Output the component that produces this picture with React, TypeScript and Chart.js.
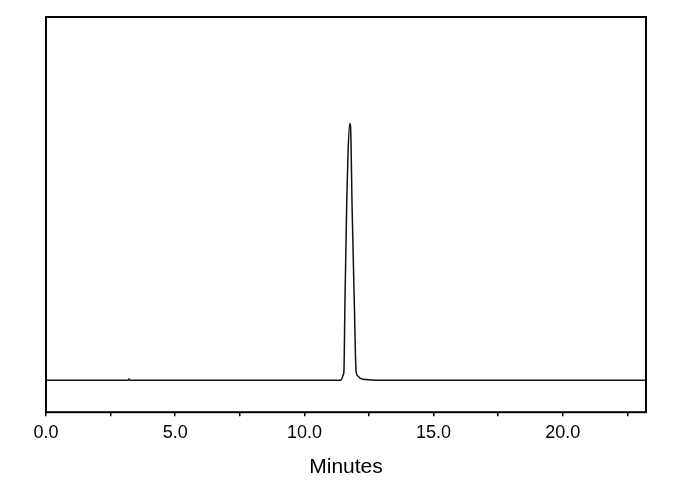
import React, { useEffect, useRef } from "react";
import { Chart, registerables } from "chart.js";

Chart.register(...registerables);

// Retention time (minutes) and detector signal (relative, baseline 0, peak 100)
const times: number[] = [
  0.0, 3.17, 3.21, 3.25, 11.38, 11.44, 11.5, 11.53, 11.57, 11.64, 11.69, 11.76,
  11.8, 11.84, 11.93, 12.0, 12.07, 12.15, 12.38, 12.81, 23.22,
];
const signal: number[] = [
  0, 0, 0.5, 0, 0, 0.5, 2, 3.6, 31, 70, 89, 100,
  95, 70, 31, 3.6, 1.7, 0.9, 0.3, 0, 0,
];

const xMin = 0;
const xMax = 23.22;
const yMin = -12.4;
const yMax = 141.5;
const xTitle = "Minutes";

const framePlugin = {
  id: "frame",
  afterDraw(chart: any) {
    const { ctx, chartArea } = chart;
    ctx.save();
    ctx.strokeStyle = "#000";
    ctx.lineWidth = 2;
    ctx.strokeRect(
      chartArea.left,
      chartArea.top,
      chartArea.right - chartArea.left,
      chartArea.bottom - chartArea.top
    );
    ctx.restore();
  },
};

export default function App() {
  const ref = useRef<HTMLCanvasElement | null>(null);

  useEffect(() => {
    if (!ref.current) return;
    const data = times.map((t, i) => ({ x: t, y: signal[i] }));
    const chart = new Chart(ref.current, {
      type: "line",
      data: {
        datasets: [
          {
            data,
            borderColor: "#111",
            borderWidth: 1.5,
            pointRadius: 0,
            cubicInterpolationMode: "monotone",
            fill: false,
          },
        ],
      },
      options: {
        animation: false,
        responsive: false,
        maintainAspectRatio: false,
        layout: { padding: { left: 46, right: 44, top: 17, bottom: 10 } },
        plugins: {
          legend: { display: false },
          tooltip: { enabled: false },
        },
        scales: {
          x: {
            type: "linear",
            min: xMin,
            max: xMax,
            border: { display: false },
            grid: {
              drawOnChartArea: false,
              drawTicks: true,
              tickLength: 4,
              color: "#000",
              lineWidth: 1.5,
            },
            ticks: {
              stepSize: 2.5,
              includeBounds: false,
              autoSkip: false,
              maxRotation: 0,
              padding: 6,
              color: "#000",
              font: { family: "'Liberation Sans', Arial, sans-serif", size: 18 },
              callback: (v: any) => (Math.abs(v % 5) < 1e-9 ? Number(v).toFixed(1) : ""),
            },
            title: {
              display: true,
              text: xTitle,
              color: "#000",
              font: { family: "'Liberation Sans', Arial, sans-serif", size: 21 },
              padding: { top: 5, bottom: 0 },
            },
          },
          y: {
            display: false,
            min: yMin,
            max: yMax,
          },
        },
      },
      plugins: [framePlugin],
    });
    return () => chart.destroy();
  }, []);

  return (
    <div style={{ position: "fixed", left: 0, top: 0, width: 690, height: 490, background: "#fff" }}>
      <canvas ref={ref} width={690} height={490} style={{ width: 690, height: 490 }} />
    </div>
  );
}
